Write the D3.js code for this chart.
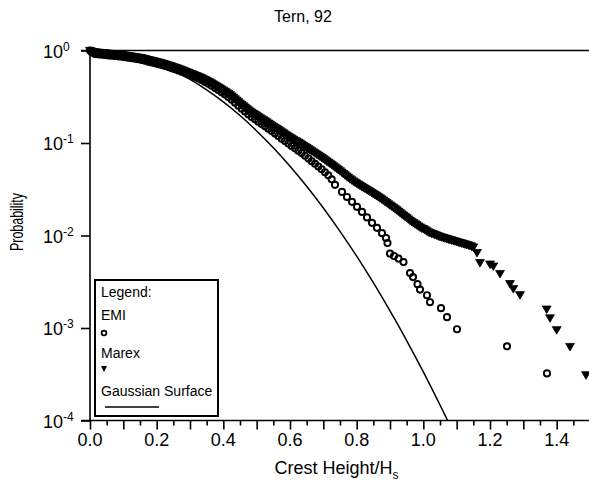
<!DOCTYPE html>
<html><head><meta charset="utf-8">
<script src="https://cdn.jsdelivr.net/npm/d3@7/dist/d3.min.js"></script>
<style>
body{margin:0;background:#fff}
text{font-family:"Liberation Sans",Arial,Helvetica,sans-serif;fill:#000}
</style>
</head><body>
<svg id="chart" width="589" height="483"></svg>
<script>
// ---------- data ----------
const chartTitle = "Tern, 92";
const xLabel = "Crest Height/H";
const xLabelSub = "s";
const yLabel = "Probability";
const xTickLabels = ["0.0","0.2","0.4","0.6","0.8","1.0","1.2","1.4"];
const yTickExponents = ["0","-1","-2","-3","-4"];
const legendTitle = "Legend:";
const seriesNames = ["EMI","Marex","Gaussian Surface"];

// Marex: dense band read every 0.005, then the separate tail markers
const marexX = [
0.000,0.005,0.010,0.015,0.020,0.025,0.030,0.035,0.040,0.045,0.050,0.055,0.060,0.065,0.070,0.075,0.080,0.085,0.090,0.095,
0.100,0.105,0.110,0.115,0.120,0.125,0.130,0.135,0.140,0.145,0.150,0.155,0.160,0.165,0.170,0.175,0.180,0.185,0.190,0.195,
0.200,0.205,0.210,0.215,0.220,0.225,0.230,0.235,0.240,0.245,0.250,0.255,0.260,0.265,0.270,0.275,0.280,0.285,0.290,0.295,
0.300,0.305,0.310,0.315,0.320,0.325,0.330,0.335,0.340,0.345,0.350,0.355,0.360,0.365,0.370,0.375,0.380,0.385,0.390,0.395,
0.400,0.405,0.410,0.415,0.420,0.425,0.430,0.435,0.440,0.445,0.450,0.455,0.460,0.465,0.470,0.475,0.480,0.485,0.490,0.495,
0.500,0.505,0.510,0.515,0.520,0.525,0.530,0.535,0.540,0.545,0.550,0.555,0.560,0.565,0.570,0.575,0.580,0.585,0.590,0.595,
0.600,0.605,0.610,0.615,0.620,0.625,0.630,0.635,0.640,0.645,0.650,0.655,0.660,0.665,0.670,0.675,0.680,0.685,0.690,0.695,
0.700,0.705,0.710,0.715,0.720,0.725,0.730,0.735,0.740,0.745,0.750,0.755,0.760,0.765,0.770,0.775,0.780,0.785,0.790,0.795,
0.800,0.805,0.810,0.815,0.820,0.825,0.830,0.835,0.840,0.845,0.850,0.855,0.860,0.865,0.870,0.875,0.880,0.885,0.890,0.895,
0.900,0.905,0.910,0.915,0.920,0.925,0.930,0.935,0.940,0.945,0.950,0.955,0.960,0.965,0.970,0.975,0.980,0.985,0.990,0.995,
1.000,1.005,1.010,1.015,1.020,1.025,1.030,1.035,1.040,1.045,1.050,1.055,1.060,1.065,1.070,1.075,1.080,1.085,1.090,1.095,
1.100,1.105,1.110,1.115,1.120,1.125,1.130,1.135,1.140,1.145,1.150,
1.161,1.170,1.200,1.210,1.230,1.260,1.270,1.290,1.370,1.380,1.400,1.440,1.488];
const marexP = [
.989,.970,.956,.951,.947,.943,.940,.936,.932,.927,.923,.919,.916,.912,.909,.904,.900,.897,.894,.888,
.883,.877,.872,.866,.861,.855,.850,.844,.839,.834,.829,.821,.813,.804,.795,.787,.779,.771,.764,.755,
.747,.739,.732,.723,.714,.705,.696,.687,.679,.669,.659,.650,.641,.631,.622,.612,.602,.592,.582,.572,
.563,.554,.545,.535,.526,.518,.510,.499,.489,.479,.469,.459,.450,.439,.428,.417,.407,.397,.387,.377,
.367,.357,.348,.338,.329,.318,.307,.296,.286,.276,.266,.257,.249,.241,.233,.225,.218,.212,.206,.201,
.196,.190,.185,.180,.176,.171,.167,.162,.158,.153,.149,.145,.142,.138,.134,.130,.127,.123,.120,.117,
.114,.111,.108,.105,.103,.1006,.0983,.0956,.0929,.0905,.0882,.0858,.0834,.0812,.0790,.0770,.0750,.0730,.0710,.0690,
.0670,.0650,.0631,.0613,.0596,.0578,.0560,.0543,.0526,.0510,.0494,.0478,.0462,.0447,.0433,.0419,.0405,.0394,.0383,.0373,
.0363,.0353,.0344,.0335,.0327,.0319,.0311,.0303,.0296,.0288,.0280,.0273,.0266,.0259,.0252,.0245,.0238,.0231,.0224,.0217,
.0211,.0205,.0199,.0193,.0187,.0181,.0175,.0169,.0164,.0159,.0154,.0149,.0144,.0140,.0136,.0132,.0129,.0125,.0122,.0119,
.0117,.0114,.0111,.0108,.0106,.0104,.0103,.0101,.00995,.00979,.00963,.00951,.00940,.00928,.00917,.00905,.00894,.00883,.00872,.00861,
.00850,.00839,.00829,.00819,.00809,.00799,.00789,.00779,.00769,.00755,.00741,
.00646,.00504,.00485,.00461,.00383,.00298,.00263,.00226,.00158,.00127,.000946,.000623,.000308];

const emiX = [0.000,0.005,0.015,0.025,0.035,0.045,0.055,0.065,0.075,0.085,0.095,
0.105,0.115,0.125,0.135,0.145,0.155,0.165,0.175,0.185,0.195,
0.205,0.215,0.225,0.235,0.245,0.255,0.265,0.275,0.285,0.295,
0.305,0.315,0.325,0.335,0.345,0.355,0.365,0.375,0.385,0.395,
0.405,0.415,0.425,0.435,0.445,0.455,0.465,0.475,0.485,0.495,
0.505,0.515,0.525,0.535,0.545,0.555,0.565,0.575,0.585,0.595,
0.605,0.615,0.625,0.635,0.645,0.655,0.665,0.675,0.685,0.695,
0.705,0.715,0.725,
0.735,0.756,0.771,0.786,0.801,0.816,0.831,0.846,0.861,0.876,0.888,0.8925,0.900,0.912,0.9255,0.9405,0.960,0.969,0.9825,0.990,1.011,1.020,1.053,1.071,1.101,1.251,1.371];
const emiP = [1.0,.955,.916,.909,.902,.893,.885,.879,.871,.864,.856,
.845,.834,.824,.813,.803,.791,.774,.758,.743,.728,
.712,.696,.679,.662,.644,.626,.608,.589,.570,.551,
.533,.516,.499,.479,.457,.437,.416,.394,.374,.353,
.334,.315,.294,.273,.253,.235,.219,.204,.191,.181,
.170,.160,.152,.143,.135,.127,.119,.111,.105,.0988,
.0928,.0875,.0827,.0778,.0728,.0681,.0636,.0596,.0558,.0520,
.0482,.0447,.0405,
.0353,.0296,.0261,.0231,.0204,.0180,.0157,.0137,.0121,.0106,.00940,.00829,.00638,.00600,.00563,.00516,.00392,.00355,.00298,.00260,.00226,.00190,.00164,.00131,.000969,.000634,.000323];

const gaussX = [0,0.05,0.10,0.15,0.20,0.25,0.30,0.35,0.40,0.45,0.50,0.55,0.60,0.65,0.70,0.75,0.80,0.85,0.90,0.95,1.00,1.05,1.073];
const gaussP = [1,.980,.923,.835,.726,.607,.487,.375,.278,.198,.135,.0889,.0561,.0340,.0198,.0111,.00598,.00309,.00153,.000732,.000335,.000147,.0001];

// ---------- layout ----------
const svg = d3.select("#chart");
const x = d3.scaleLinear().domain([0, 1.5]).range([90, 590]);
const y = d3.scaleLog().domain([1e-4, 1]).range([420.5, 50.5]);
const sw = 1.6;

// Gaussian line
const gauss = gaussX.map((v,i)=>({x:v,p:gaussP[i]}));
svg.append("path").datum(gauss)
  .attr("fill","none").attr("stroke","#000").attr("stroke-width",1.5)
  .attr("d", d3.line().x(d=>x(d.x)).y(d=>y(d.p)).curve(d3.curveMonotoneX));

// EMI circles
const emi = emiX.map((v,i)=>({x:v,p:emiP[i]}));
svg.append("g").selectAll("circle").data(emi).join("circle")
  .attr("cx",d=>x(d.x)).attr("cy",d=>y(d.p)).attr("r",3.1)
  .attr("fill","none").attr("stroke","#000").attr("stroke-width",1.9);

// Marex triangles
const tri = "M-4.4,-3.6L4.4,-3.6L0,3.9Z";
const marex = marexX.map((v,i)=>({x:v,p:marexP[i]}));
svg.append("g").selectAll("path").data(marex).join("path")
  .attr("d",tri).attr("transform",d=>`translate(${x(d.x)},${y(d.p)})`)
  .attr("fill","#000").attr("stroke","#000").attr("stroke-width",0.8).attr("stroke-linejoin","round");

// axes
const yTicks = yTickExponents.map(e=>Math.pow(10,+e));
const gy = svg.append("g").attr("transform",`translate(${x(0)},0)`)
  .call(d3.axisLeft(y).tickValues(yTicks).tickSize(9).tickFormat(""));
gy.select(".domain").remove();
gy.selectAll(".tick line").attr("stroke-width",sw);

const xMajor = d3.range(0, 15).map(i=>i/10);
const xMinor = d3.range(0, 15).map(i=>i/10+0.05);
const gx = svg.append("g").attr("transform",`translate(0,${y(1e-4)})`)
  .call(d3.axisBottom(x).tickValues(xMajor).tickSize(9).tickFormat(""));
gx.select(".domain").remove();
gx.selectAll(".tick line").attr("stroke-width",sw);
const gxm = svg.append("g").attr("transform",`translate(0,${y(1e-4)})`)
  .call(d3.axisBottom(x).tickValues(xMinor).tickSize(5).tickFormat(""));
gxm.select(".domain").remove();
gxm.selectAll(".tick line").attr("stroke-width",sw);

// frame lines
svg.append("line").attr("x1",x(0)-9).attr("x2",589).attr("y1",y(1e-4)).attr("y2",y(1e-4)).attr("stroke","#000").attr("stroke-width",sw);
svg.append("line").attr("x1",x(0)-9).attr("x2",589).attr("y1",y(1)).attr("y2",y(1)).attr("stroke","#000").attr("stroke-width",sw);
svg.append("line").attr("x1",x(0)).attr("x2",x(0)).attr("y1",y(1)).attr("y2",y(1e-4)).attr("stroke","#000").attr("stroke-width",sw);

// x tick labels
svg.append("g").selectAll("text").data(xTickLabels).join("text")
  .attr("x",d=>x(+d)).attr("y",y(1e-4)+25).attr("text-anchor","middle")
  .style("font-size","18px").text(d=>d);

// y tick labels
const yl = svg.append("g").selectAll("text").data(yTickExponents).join("text")
  .attr("x",43).attr("y",e=>y(Math.pow(10,+e))+7).style("font-size","18px");
yl.append("tspan").text("10");
yl.append("tspan").attr("dy",-7).style("font-size","12px").text(e=>e);

// title
svg.append("text").attr("x",303).attr("y",22).attr("text-anchor","middle")
  .style("font-size","16px").text(chartTitle);

// x label
const xl = svg.append("text").attr("x",(x(0)+589)/2-3).attr("y",474).attr("text-anchor","middle").style("font-size","18px");
xl.append("tspan").text(xLabel);
xl.append("tspan").attr("dy",5).style("font-size","12px").text(xLabelSub);

// y label
svg.append("text").attr("transform","translate(23,222) rotate(-90)")
  .attr("text-anchor","middle").style("font-size","18px")
  .attr("textLength",58).attr("lengthAdjust","spacingAndGlyphs").text(yLabel);

// legend
const lg = svg.append("g");
lg.append("rect").attr("x",95).attr("y",280).attr("width",123).attr("height",136)
  .attr("fill","#fff").attr("stroke","#000").attr("stroke-width",2);
lg.append("text").attr("x",101).attr("y",297).style("font-size","14px").text(legendTitle);
lg.append("text").attr("x",101).attr("y",320).style("font-size","14px").text(seriesNames[0]);
lg.append("circle").attr("cx",104).attr("cy",333).attr("r",2.4).attr("fill","none").attr("stroke","#000").attr("stroke-width",1.8);
lg.append("text").attr("x",101).attr("y",358).style("font-size","14px").text(seriesNames[1]);
lg.append("path").attr("d","M-3,-3L3,-3L0,3Z").attr("transform","translate(104,369)").attr("fill","#000");
lg.append("text").attr("x",101).attr("y",396).style("font-size","14px").text(seriesNames[2]);
lg.append("line").attr("x1",105).attr("x2",159).attr("y1",407).attr("y2",407).attr("stroke","#000").attr("stroke-width",1.5);
</script>
</body></html>
